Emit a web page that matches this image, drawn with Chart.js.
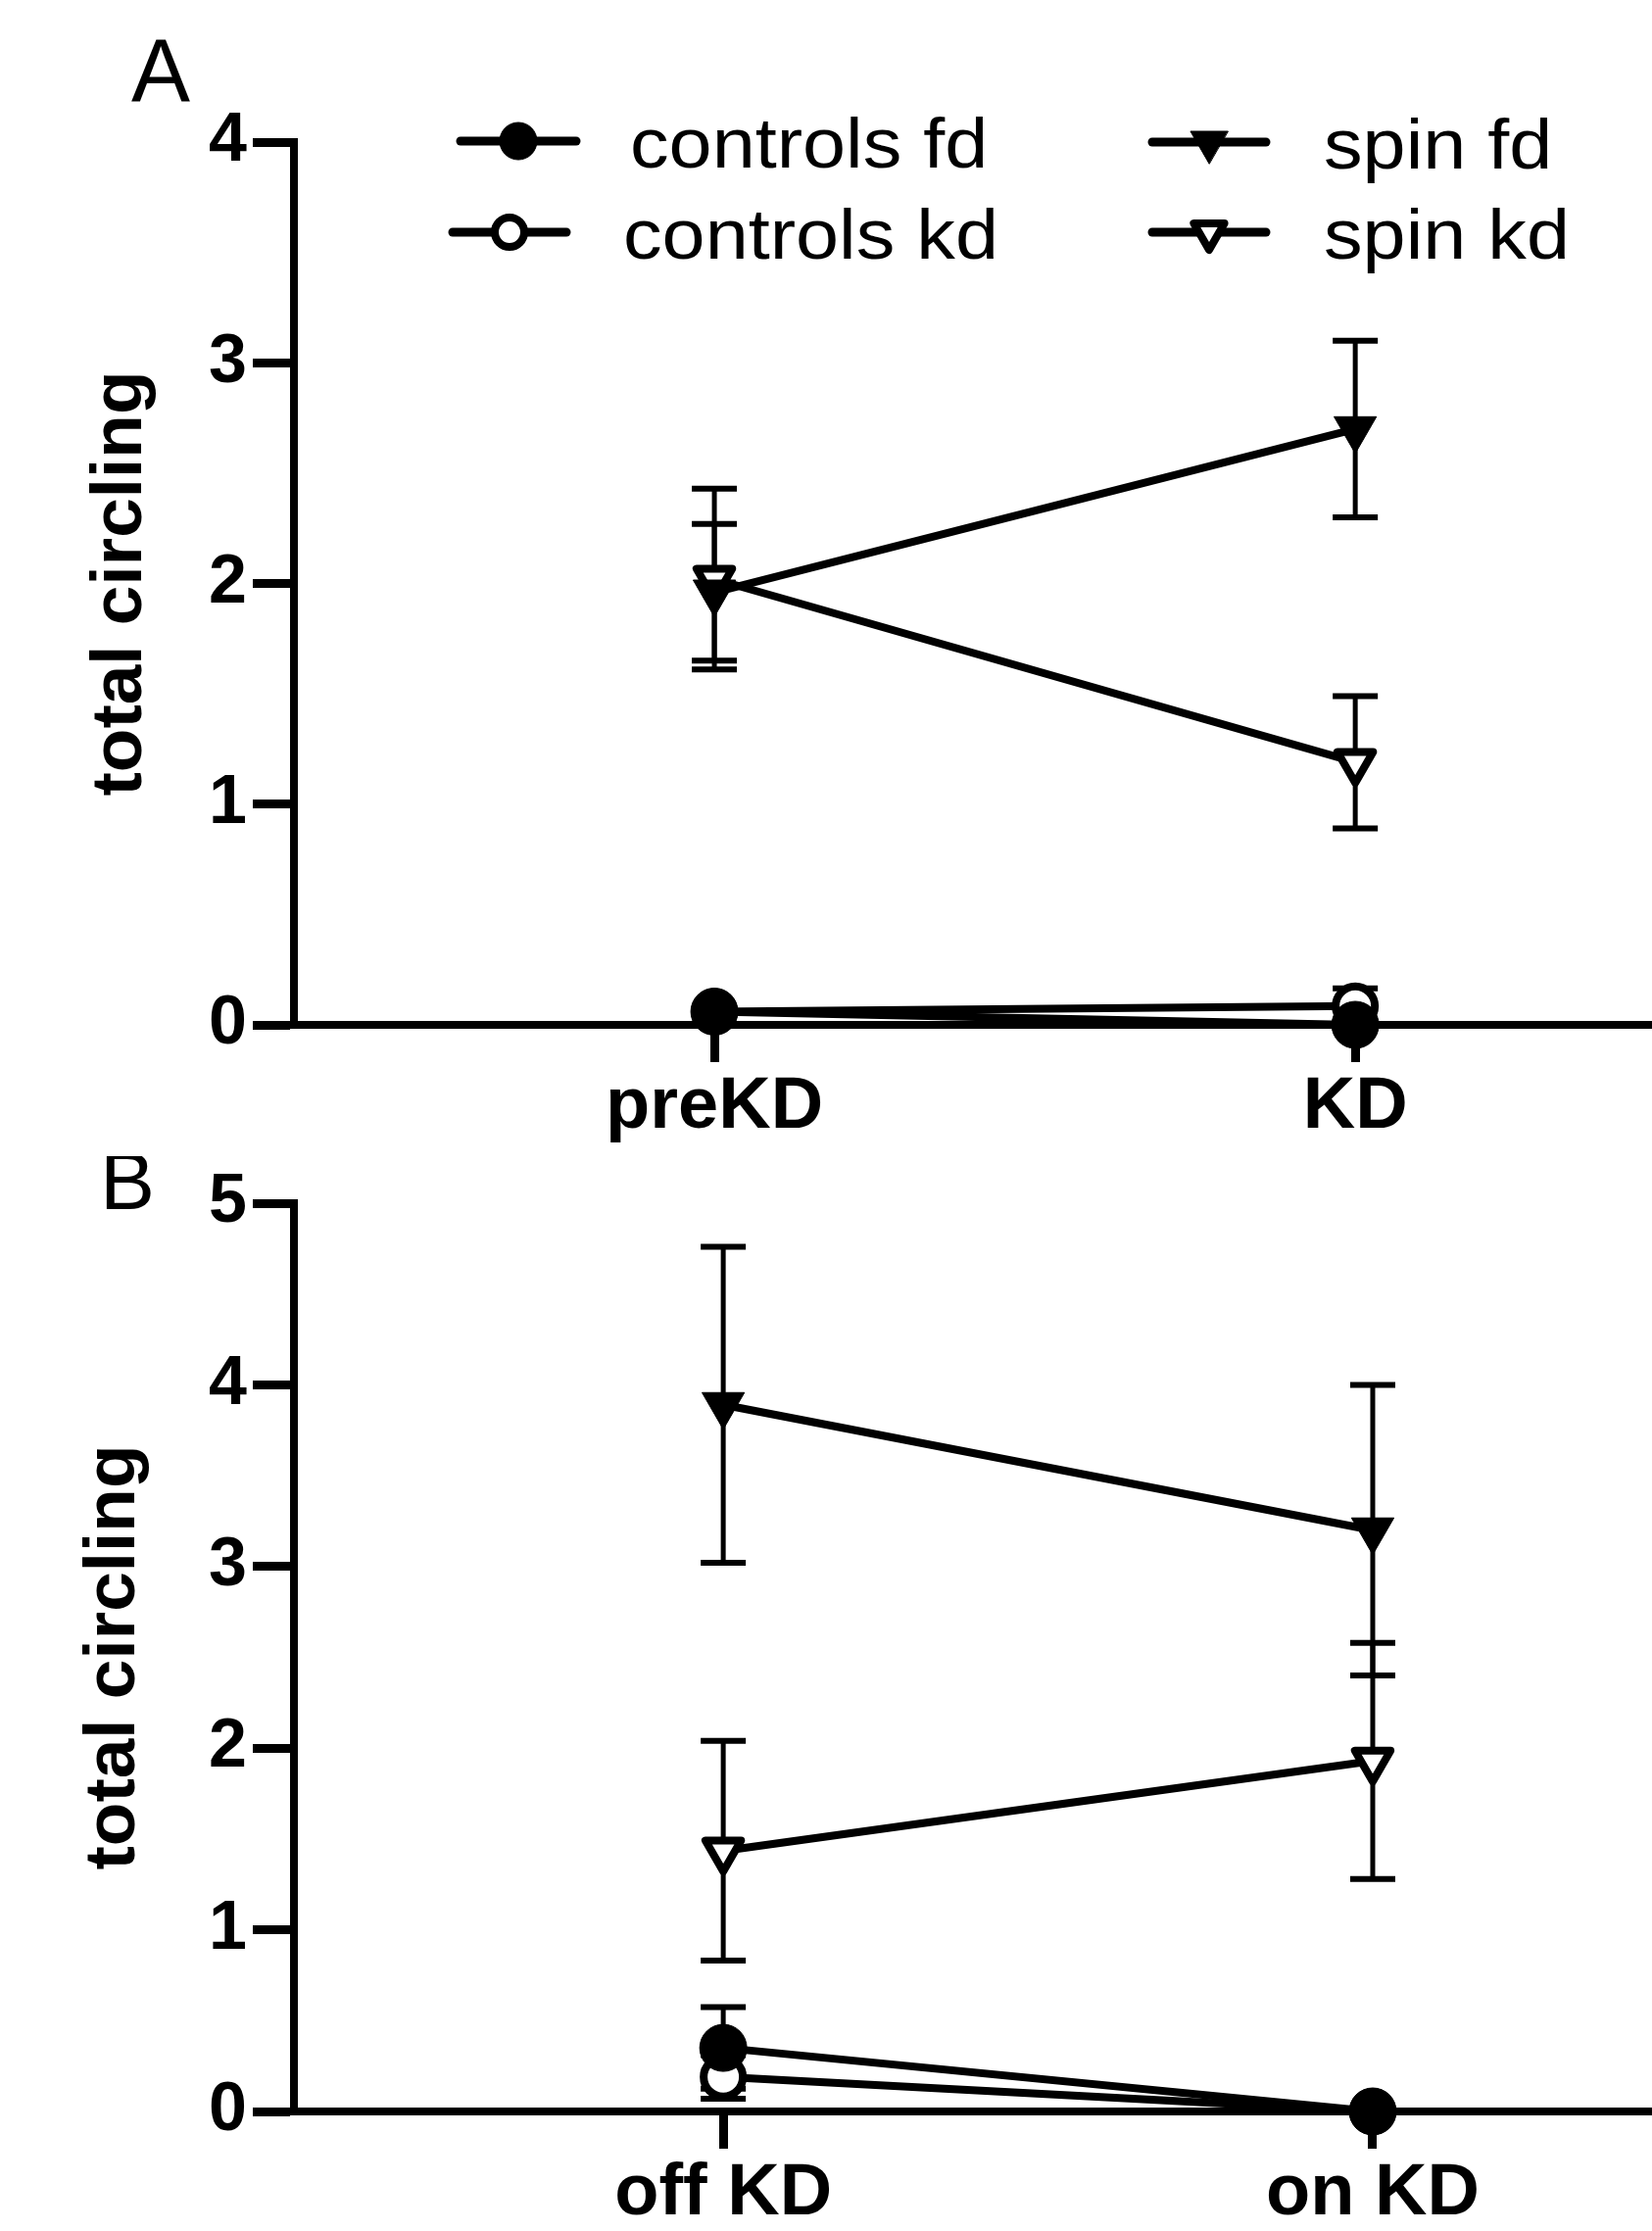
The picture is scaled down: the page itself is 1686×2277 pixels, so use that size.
<!DOCTYPE html>
<html>
<head>
<meta charset="utf-8">
<title>total circling</title>
<script src="https://cdn.jsdelivr.net/npm/chart.js@4.4.1/dist/chart.umd.min.js"></script>
<style>
    html, body { margin: 0; padding: 0; background: #fff; }
    canvas { display: block; }
</style>
</head>
<body>
<canvas id="chartA" width="1686" height="1180"></canvas>
<canvas id="chartB" width="1686" height="1097"></canvas>
<script>
// Categories and tick labels
const catsA = ['preKD', 'KD'];
const catsB = ['off KD', 'on KD'];
const yTicksA = [0, 1, 2, 3, 4];
const yTicksB = [0, 1, 2, 3, 4, 5];
const seriesNames = ['controls fd', 'controls kd', 'spin fd', 'spin kd'];

// Panel A: means and SEM
const ctrlFdA = [0.06, 0.0];
const ctrlFdErrA = [0, 0];
const ctrlKdA = [0.06, 0.085];
const ctrlKdErrA = [0, 0.08];
const spinFdA = [1.96, 2.70];
const spinFdErrA = [0.31, 0.40];
const spinKdA = [2.02, 1.19];
const spinKdErrA = [0.41, 0.30];

// Panel B: means and SEM
const ctrlFdB = [0.35, 0.0];
const ctrlFdErrB = [0.225, 0];
const ctrlKdB = [0.19, 0.0];
const ctrlKdErrB = [0.12, 0];
const spinFdB = [3.89, 3.20];
const spinFdErrB = [0.87, 0.80];
const spinKdB = [1.435, 1.93];
const spinKdErrB = [0.605, 0.65];

const FONT = "'Liberation Sans', Arial, Helvetica, sans-serif";

// marker look per series
const markerStyles = {
    'controls fd': { shape: 'circle', filled: true },
    'controls kd': { shape: 'circle', filled: false },
    'spin fd': { shape: 'triangle', filled: true },
    'spin kd': { shape: 'triangle', filled: false }
};

function makeDataset(name, values, errors) {
    const st = markerStyles[name];
    let radius;
    if (st.shape === 'circle') radius = st.filled ? 24 : 20;
    else radius = st.filled ? 25 : 21;
    return {
        label: name,
        data: values.map((v, i) => ({ x: i, y: v })),
        errors: errors,
        borderColor: '#000',
        borderWidth: 8,
        backgroundColor: st.filled ? '#000' : '#fff',
        pointStyle: st.shape,
        pointRotation: st.shape === 'triangle' ? 180 : 0,
        pointRadius: radius,
        pointHoverRadius: radius,
        pointBorderWidth: st.filled ? 1 : 8,
        pointBorderColor: '#000',
        pointBackgroundColor: st.filled ? '#000' : '#fff',
        tension: 0,
        fill: false,
        clip: false
    };
}

// draw a small marker for the legend
function drawMarker(ctx, name, x, y) {
    const st = markerStyles[name];
    ctx.save();
    ctx.lineJoin = 'round';
    ctx.strokeStyle = '#000';
    ctx.fillStyle = st.filled ? '#000' : '#fff';
    ctx.beginPath();
    let r;
    if (st.shape === 'circle') {
        r = st.filled ? 19 : 15;
        ctx.arc(x, y, r, 0, Math.PI * 2);
    } else {
        r = st.filled ? 22 : 18;
        ctx.moveTo(x, y + r);
        ctx.lineTo(x - r * Math.sin(Math.PI / 3), y - r / 2);
        ctx.lineTo(x + r * Math.sin(Math.PI / 3), y - r / 2);
        ctx.closePath();
    }
    ctx.fill();
    ctx.lineWidth = st.filled ? 1 : 8;
    ctx.stroke();
    ctx.restore();
}

// Error bars drawn under the markers
const errorBars = {
    id: 'errorBars',
    beforeDatasetsDraw(chart) {
        const ctx = chart.ctx;
        const xs = chart.scales.x;
        const ys = chart.scales.y;
        ctx.save();
        ctx.strokeStyle = '#000';
        chart.data.datasets.forEach(ds => {
            ds.data.forEach((p, i) => {
                const e = ds.errors[i];
                if (!e) return;
                const px = xs.getPixelForValue(p.x);
                const top = ys.getPixelForValue(p.y + e);
                const bot = ys.getPixelForValue(p.y - e);
                ctx.lineWidth = 5;
                ctx.beginPath();
                ctx.moveTo(px, top);
                ctx.lineTo(px, bot);
                ctx.stroke();
                ctx.lineWidth = 6;
                ctx.beginPath();
                ctx.moveTo(px - 23, top);
                ctx.lineTo(px + 23, top);
                ctx.moveTo(px - 23, bot);
                ctx.lineTo(px + 23, bot);
                ctx.stroke();
            });
        });
        // rounder corners for the open triangles
        ctx.lineJoin = 'round';
    },
    afterDatasetsDraw(chart) {
        chart.ctx.restore();
    }
};

// Legend in two columns, line + marker + label
const sketchLegend = {
    id: 'sketchLegend',
    afterDraw(chart, args, opts) {
        if (!opts.items) return;
        const ctx = chart.ctx;
        opts.items.forEach((slot, i) => {
            const name = seriesNames[i];
            ctx.save();
            ctx.strokeStyle = '#000';
            ctx.lineWidth = 9;
            ctx.lineCap = 'round';
            ctx.beginPath();
            ctx.moveTo(slot.x1, slot.y);
            ctx.lineTo(slot.x2, slot.y);
            ctx.stroke();
            drawMarker(ctx, name, (slot.x1 + slot.x2) / 2, slot.y);
            // text in the source is slightly wide, so stretch it a little
            ctx.translate(slot.tx, slot.y + 27);
            ctx.scale(1.1, 1);
            ctx.fillStyle = '#000';
            ctx.font = `72px ${FONT}`;
            ctx.textAlign = 'left';
            ctx.textBaseline = 'alphabetic';
            ctx.fillText(name, 0, 0);
            ctx.restore();
        });
    }
};

// Panel letter (A / B)
const panelLetter = {
    id: 'panelLetter',
    afterDraw(chart, args, opts) {
        const ctx = chart.ctx;
        ctx.save();
        ctx.fillStyle = '#000';
        ctx.font = `${opts.size}px ${FONT}`;
        ctx.textAlign = 'left';
        ctx.textBaseline = 'alphabetic';
        ctx.fillText(opts.text, opts.x, opts.y);
        ctx.restore();
    }
};

function buildOptions(cats, yTicks, cfg) {
    return {
        responsive: false,
        animation: false,
        devicePixelRatio: 1,
        events: [],
        layout: { autoPadding: false, padding: { left: cfg.padLeft, top: cfg.padTop, right: 0, bottom: 0 } },
        plugins: {
            legend: { display: false },
            tooltip: { enabled: false },
            sketchLegend: { items: cfg.legend },
            panelLetter: cfg.letter
        },
        scales: {
            x: {
                type: 'linear',
                min: cfg.xMin,
                max: cfg.xMax,
                afterBuildTicks: ax => { ax.ticks = cats.map((c, i) => ({ value: i })); },
                afterFit: ax => { ax.height = cfg.xHeight; },
                ticks: {
                    callback: v => cats[v],
                    color: '#000',
                    font: { family: FONT, size: 74, weight: 'bold' },
                    padding: 2,
                    maxRotation: 0,
                    autoSkip: false
                },
                grid: { drawOnChartArea: false, drawTicks: true, tickLength: 38, tickWidth: 9, tickColor: '#000' },
                border: { display: true, width: 8, color: '#000' }
            },
            y: {
                min: yTicks[0],
                max: yTicks[yTicks.length - 1],
                afterBuildTicks: ax => { ax.ticks = yTicks.map(v => ({ value: v })); },
                afterFit: ax => { ax.width = 300 - cfg.padLeft; },
                ticks: {
                    callback: v => String(v),
                    color: '#000',
                    font: { family: FONT, size: 70, weight: 'bold' },
                    padding: 6
                },
                grid: { drawOnChartArea: false, drawTicks: true, tickLength: 42, tickWidth: 9, tickColor: '#000' },
                border: { display: true, width: 8, color: '#000' },
                title: {
                    display: true,
                    text: 'total circling',
                    color: '#000',
                    font: { family: FONT, size: 73, weight: 'bold' },
                    padding: { top: 0, bottom: 0 }
                }
            }
        }
    };
}

// Panel A
new Chart(document.getElementById('chartA'), {
    type: 'line',
    data: {
        datasets: [
            makeDataset('controls fd', ctrlFdA, ctrlFdErrA),
            makeDataset('spin fd', spinFdA, spinFdErrA),
            makeDataset('controls kd', ctrlKdA, ctrlKdErrA),
            makeDataset('spin kd', spinKdA, spinKdErrA)
        ]
    },
    options: buildOptions(catsA, yTicksA, {
        padLeft: 80,
        padTop: 145,
        xHeight: 1180 - 1046,
        xMin: -0.656,
        xMax: 1.463,
        legend: [
            { x1: 470, x2: 588, tx: 643, y: 144 },
            { x1: 462, x2: 578, tx: 636, y: 237 },
            { x1: 1176, x2: 1292, tx: 1351, y: 145 },
            { x1: 1176, x2: 1292, tx: 1351, y: 237 }
        ],
        letter: { text: 'A', x: 134, y: 103, size: 90 }
    }),
    plugins: [errorBars, sketchLegend, panelLetter]
});

// Panel B
new Chart(document.getElementById('chartB'), {
    type: 'line',
    data: {
        datasets: [
            makeDataset('controls fd', ctrlFdB, ctrlFdErrB),
            makeDataset('spin fd', spinFdB, spinFdErrB),
            makeDataset('controls kd', ctrlKdB, ctrlKdErrB),
            makeDataset('spin kd', spinKdB, spinKdErrB)
        ]
    },
    options: buildOptions(catsB, yTicksB, {
        padLeft: 73,
        padTop: 44,
        xHeight: 1097 - 975,
        xMin: -0.661,
        xMax: 1.43,
        legend: null,
        letter: { text: 'B', x: 102, y: 54, size: 84 }
    }),
    plugins: [errorBars, sketchLegend, panelLetter]
});
</script>
</body>
</html>
